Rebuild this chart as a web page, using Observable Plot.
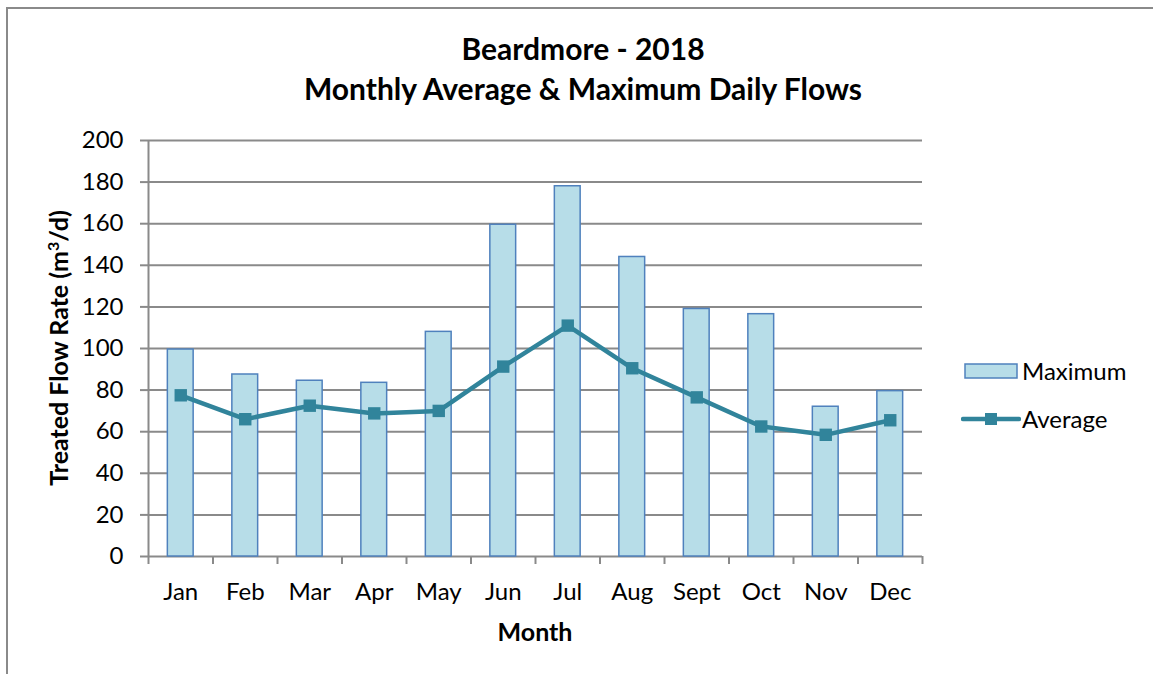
<!DOCTYPE html>
<html><head><meta charset="utf-8">
<script src="https://cdn.jsdelivr.net/npm/d3@7"></script>
<script src="https://cdn.jsdelivr.net/npm/@observablehq/plot@0.6"></script>
<style>
body{margin:0;background:#fff;font-family:Lato,"Open Sans",sans-serif;color:#000;}
#wrap{position:relative;width:1153px;height:674px;overflow:hidden;background:#fff;}
#frame{position:absolute;left:6px;top:7px;width:1200px;height:720px;border-left:2px solid #8a8a8a;border-top:2px solid #8a8a8a;}
#title{position:absolute;left:0;width:1166px;top:28px;text-align:center;font-weight:bold;font-size:30px;line-height:40px;}
#chart{position:absolute;left:0;top:0;}
#chart svg{overflow:visible;background:transparent;}
#ylab{position:absolute;left:58px;top:348px;transform:translate(-50%,-50%) rotate(-90deg);white-space:nowrap;font-weight:bold;font-size:25px;}
#xlab{position:absolute;left:535px;top:631px;transform:translate(-50%,-50%);font-weight:bold;font-size:25px;}
.leg{position:absolute;font-size:24px;line-height:28px;}
.sw{position:absolute;}
</style></head>
<body>
<div id="wrap">
  <div id="frame"></div>
  <div id="title">Beardmore - 2018<br>Monthly Average &amp; Maximum Daily Flows</div>
  <div id="chart"></div>
  <div id="ylab">Treated Flow Rate (m<sup style="font-size:16px;vertical-align:9px">3</sup>/d)</div>
  <div id="xlab">Month</div>
  <svg class="sw" style="left:963px;top:362px" width="56" height="18" id="sw1"></svg>
  <div class="leg" style="left:1022px;top:357px">Maximum</div>
  <svg class="sw" style="left:961px;top:410px" width="60" height="18" id="sw2"></svg>
  <div class="leg" style="left:1022px;top:405px">Average</div>
</div>
<script>
const months = ["Jan","Feb","Mar","Apr","May","Jun","Jul","Aug","Sept","Oct","Nov","Dec"];
const maximum = [99.5, 87.5, 84.5, 83.5, 108, 159.5, 178, 144, 119, 116.5, 72, 79.5];
const average = [77.5, 66, 72.5, 68.8, 70, 91.3, 111, 90.5, 76.5, 62.5, 58.5, 65.5];
const yTicks = [0,20,40,60,80,100,120,140,160,180,200];

const barFill = "#B7DDE8", barStroke = "#4F81BD", lineColor = "#31849B", gridColor = "#8a8a8a";

const rows = months.map((m, i) => ({month: m, max: maximum[i], avg: average[i]}));

const W = 1153, H = 674, ML = 148, MR = 231, MT = 140, MB = 118;
const step = (W - ML - MR) / months.length;

const plot = Plot.plot({
  width: W, height: H,
  marginLeft: ML, marginRight: MR, marginTop: MT, marginBottom: MB,
  style: {fontFamily: "Lato, 'Open Sans', sans-serif", fontSize: "24px", background: "transparent", color: "#000"},
  x: {domain: months, paddingInner: 0.6, paddingOuter: 0.3, round: false, axis: null},
  y: {domain: [0, 200], axis: null},
  marks: [
    Plot.ruleY(yTicks, {stroke: gridColor, strokeWidth: 2}),
    Plot.ruleX([months[0]], {dx: -step/2, stroke: gridColor, strokeWidth: 2}),
    Plot.axisY({ticks: yTicks, tickSize: 8, tickPadding: 17, stroke: gridColor, strokeWidth: 2, fill: "#000", fontSize: 24, label: null}),
    Plot.axisX({tickSize: 0, tickPadding: 26, fill: "#000", fontSize: 24, label: null}),
    Plot.axisX({tickSize: 8, dx: -step/2, text: null, stroke: gridColor, strokeWidth: 2, label: null}),
    Plot.axisX({ticks: [months[months.length-1]], tickSize: 8, dx: step/2, text: null, stroke: gridColor, strokeWidth: 2, label: null}),
    Plot.barY(rows, {x: "month", y: "max", fill: barFill, stroke: barStroke, strokeWidth: 1.5}),
    Plot.line(rows, {x: "month", y: "avg", stroke: lineColor, strokeWidth: 4.5}),
    Plot.dot(rows, {x: "month", y: "avg", symbol: "square", r: 7, fill: lineColor, stroke: "none"})
  ]
});
document.getElementById("chart").appendChild(plot);

// legend swatches
const sw1 = d3.select("#sw1");
sw1.append("rect").attr("x", 2).attr("y", 2).attr("width", 52).attr("height", 14)
  .attr("fill", barFill).attr("stroke", barStroke).attr("stroke-width", 1.5);
const sw2 = d3.select("#sw2");
sw2.append("line").attr("x1", 2).attr("x2", 58).attr("y1", 9).attr("y2", 9)
  .attr("stroke", lineColor).attr("stroke-width", 4.5).attr("stroke-linecap", "round");
sw2.append("rect").attr("x", 24).attr("y", 3).attr("width", 12).attr("height", 12).attr("fill", lineColor);
</script>
</body></html>
